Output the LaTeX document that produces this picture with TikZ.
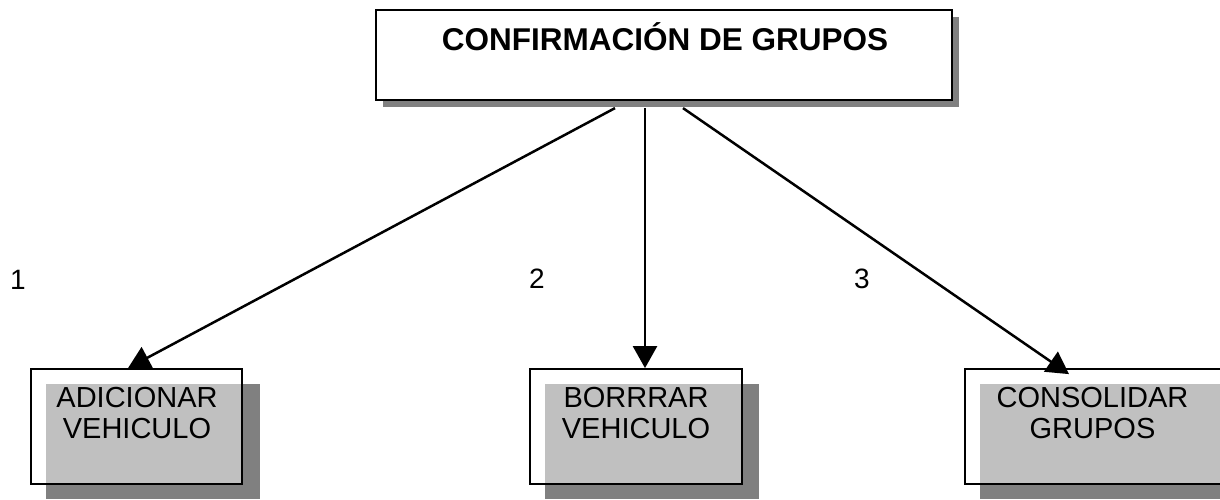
\documentclass[tikz,border=0pt]{standalone}
\usepackage{fontspec}
\setmainfont{Liberation Sans}
\usetikzlibrary{arrows.meta,calc}
\definecolor{lgrey}{HTML}{C0C0C0}
\definecolor{dgrey}{HTML}{808080}
\begin{document}
\begin{tikzpicture}[x=1pt,y=-1pt,
  arr/.style={line width=2.5pt,-{Triangle[length=22pt,width=24pt]}},
  boxline/.style={draw=black,line width=1.8pt,inner sep=0pt,minimum height=115pt},
  boxtxt/.style={font=\fontsize{29}{30.5}\selectfont,align=center,inner sep=0pt,anchor=base},
  numtxt/.style={font=\fontsize{28}{30}\selectfont,inner sep=0pt,anchor=base west}]
\useasboundingbox (0,0) rectangle (1220,499);
\clip (0,0) rectangle (1220,499);
% top box
\fill[dgrey] (383,17) rectangle (959,107);
\node[draw, fill=white, line width=2.2pt, minimum width=576pt, minimum height=90pt, inner sep=0pt] (top) at (664,55) {};
% bottom left
\fill[white] (31,369) rectangle (242,484);
\fill[dgrey] (46,384) rectangle (260,499);
\fill[lgrey] (46,384) rectangle (242,484);
\node[boxline, minimum width=211pt] (adic) at (136.5,426.5) {};
% bottom middle
\fill[white] (530,369) rectangle (742,484);
\fill[dgrey] (545,384) rectangle (759,499);
\fill[lgrey] (545,384) rectangle (742,484);
\node[boxline, minimum width=212pt] (borr) at (636,426.5) {};
% bottom right
\fill[white] (965,369) rectangle (1226,484);
\fill[dgrey] (980,384) rectangle (1240,499);
\fill[lgrey] (980,384) rectangle (1226,484);
\node[boxline, minimum width=261pt] (cons) at (1095.5,426.5) {};
% arrows
\draw[arr] ($(top.south)+(-49,7)$) -- ($(adic.north)+(-8.5,0)$);
\draw[arr] ($(top.south)+(-19,7)$) -- ($(borr.north)+(9,0)$);
\draw[arr] ($(top.south)+(19,7)$) -- ($(cons.north)+(-26.5,6)$);
% texts
\node[font=\fontsize{31.5}{33}\selectfont\bfseries, anchor=base, inner sep=0pt] (title) at (665,50) {CONFIRMACIÓN DE GRUPOS};
\node[boxtxt] (t1) at (137,438) {ADICIONAR\\VEHICULO};
\node[boxtxt] (t2) at (636,438) {BORRRAR\\VEHICULO};
\node[boxtxt] (t3) at (1092.5,438) {CONSOLIDAR\\GRUPOS};
\node[numtxt] (n1) at (10,289) {1};
\node[numtxt] (n2) at (529,288) {2};
\node[numtxt] (n3) at (854,288) {3};
\end{tikzpicture}
\end{document}
